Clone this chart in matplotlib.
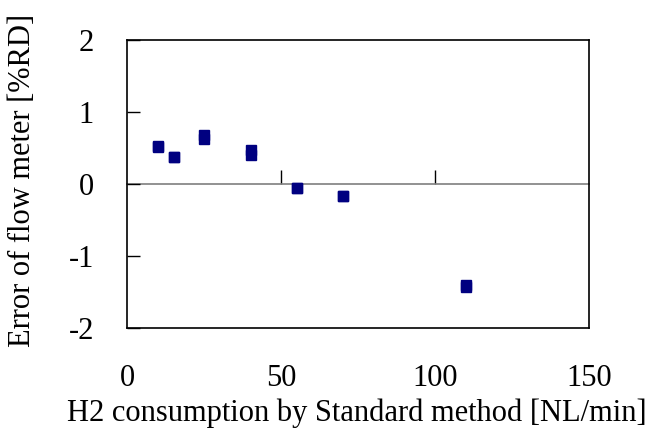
import matplotlib
matplotlib.use("Agg")
import matplotlib.pyplot as plt

# H2 consumption by the standard method [NL/min]
flow_rate = [10, 15, 25, 40, 55, 70, 110]
# Flow meter error [%RD], two repeat runs
error_run1 = [0.53, 0.38, 0.68, 0.47, -0.05, -0.16, -1.40]
error_run2 = [0.51, 0.37, 0.62, 0.41, -0.06, -0.17, -1.42]

x_ticks = [0, 50, 100, 150]
y_ticks = [-2, -1, 0, 1, 2]

plt.rcParams["font.family"] = ["Liberation Serif", "DejaVu Serif"]
plt.rcParams["axes.unicode_minus"] = False
FS = 22

fig = plt.figure(figsize=(6.51, 4.34), dpi=100)
ax = fig.add_axes([0.1956, 0.2435, 0.7097, 0.6643])

for run in (error_run1, error_run2):
    ax.plot(flow_rate, run, linestyle="none", marker="s", markersize=7.6,
            color="#000080", markeredgecolor="#000080", zorder=5)

ax.set_xlim(0, 150)
ax.set_ylim(-2, 2)
ax.set_xticks(x_ticks)
ax.set_yticks(y_ticks)

for sp in ax.spines.values():
    sp.set_color("black")
    sp.set_linewidth(1.2)

ax.tick_params(axis="x", length=0, pad=26, labelsize=FS)
ax.tick_params(axis="y", direction="in", length=9, width=1.0, pad=24,
               labelsize=FS, color="black")

# Zero line with its own upward tick marks
zero_axis = ax.secondary_xaxis(0.5)
zero_axis.set_xticks([50, 100])
zero_axis.tick_params(direction="out", length=10, width=1.0, color="black",
                      labelbottom=False, labeltop=False)
zero_axis.set_xticklabels([])
zero_axis.spines["bottom"].set_color("#7f7f7f")
zero_axis.spines["bottom"].set_linewidth(1.2)
zero_axis.spines["top"].set_color("#7f7f7f")
zero_axis.spines["top"].set_linewidth(1.2)

ax.set_xlabel("H2 consumption by Standard method [NL/min]", fontsize=FS)
ax.set_ylabel("Error of flow meter [%RD]", fontsize=FS)
ax.xaxis.set_label_coords(0.496, -0.243)
ax.yaxis.set_label_coords(-0.196, 0.512)

fig.savefig("out.png", dpi=100)
